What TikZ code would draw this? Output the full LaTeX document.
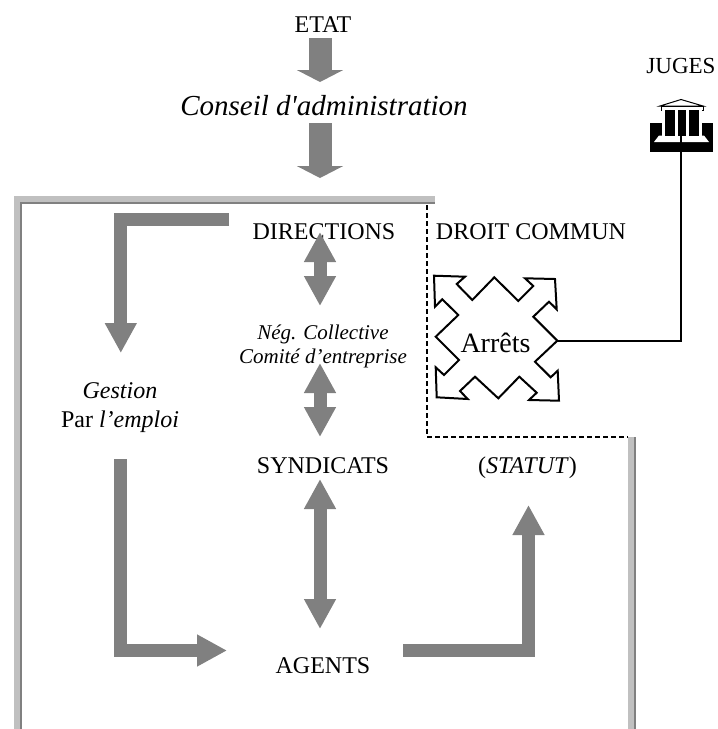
\documentclass[tikz,border=0pt]{standalone}
\usepackage{fontspec}
\setmainfont{Liberation Serif}[Ligatures=TeXOff]
\usetikzlibrary{arrows.meta}
\definecolor{fatgray}{HTML}{808080}
\definecolor{wallgray}{HTML}{C0C0C0}
\tikzset{
  lab/.style={anchor=base, inner sep=0pt, font=\fontsize{24}{24}\selectfont},
  fatarrow/.style={draw=fatgray, line width=13pt, -{Triangle[width=30pt,length=30pt]}},
  fatboth/.style={draw=fatgray, line width=13pt, {Triangle[width=30pt,length=30pt]}-{Triangle[width=30pt,length=30pt]}},
  toparrow/.style={draw=fatgray, line width=23pt, -{Triangle[width=46pt,length=12pt]}},
  wall/.style={fill=wallgray},
  wallin/.style={fill=fatgray},
}
\begin{document}
\begin{tikzpicture}[x=1pt,y=-1pt]
\useasboundingbox (0,0) rectangle (718,729);
% walls
\fill[wall] (14,196) rectangle (435,202);
\fill[wallin] (20,202) rectangle (435,204);
\fill[wall] (14,196) rectangle (20,729);
\fill[wallin] (20,202) rectangle (22,729);
\fill[wall] (628,437) rectangle (634,729);
\fill[wallin] (634,437) rectangle (636,729);
\coordinate (dashtop) at (426.5,205);
\coordinate (dashcorner) at (426.5,436.5);
\coordinate (dashend) at (628,436.5);
\draw[dashed, line width=2pt, dash pattern=on 5pt off 3pt] (dashtop) -- (dashcorner) -- (dashend);
% labels
\node[lab] (etat) at (323,32) {ETAT};
\node[lab, font=\fontsize{29}{29}\selectfont\itshape] (conseil) at (324,115) {Conseil d'administration};
\node[lab] (directions) at (324,239) {DIRECTIONS};
\node[lab] (droit) at (531,239) {DROIT COMMUN};
\node[lab, font=\fontsize{21}{24}\selectfont\itshape, anchor=center, align=center] (neg) at (323,346) {Nég. Collective\\Comité d’entreprise};
\node[lab, anchor=center, align=center, font=\fontsize{24}{29}\selectfont] (gestion) at (120,408) {\textit{Gestion}\\Par \textit{l’emploi}};
\node[lab] (syndicats) at (323,473) {SYNDICATS};
\node[lab] (statut) at (527.5,473) {(\textit{STATUT})};
\node[lab] (agents) at (323,673) {AGENTS};
\node[lab, font=\fontsize{23}{23}\selectfont] (juges) at (681,73) {JUGES};
% top arrows
\coordinate (etatfrom) at (320,38);
\coordinate (etatto) at (320,82);
\coordinate (caFrom) at (320,123);
\coordinate (caTo) at (320,178);
\draw[toparrow] (etatfrom) -- (etatto);
\draw[toparrow] (caFrom) -- (caTo);
% elbows
\coordinate (gesA) at (229,219.5);
\coordinate (gesB) at (120.8,353);
\draw[fatarrow] (gesA) -| (gesB);
\coordinate (empA) at (120,459);
\coordinate (empB) at (227,650.5);
\draw[fatarrow] (empA) |- (empB);
\coordinate (staA) at (403,650.5);
\coordinate (staB) at (528.5,505);
\draw[fatarrow] (staA) -| (staB);
% double arrows
\coordinate (dirA) at (320,232);
\coordinate (dirB) at (320,306);
\coordinate (negA) at (320,363);
\coordinate (negB) at (320,437);
\coordinate (synA) at (320,479);
\coordinate (synB) at (320,629);
\draw[fatboth] (dirA) -- (dirB);
\draw[fatboth] (negA) -- (negB);
\draw[fatboth] (synA) -- (synB);
% four way shape
\draw[line width=2pt, fill=white, line join=miter]
  (434,275.7) -- (465,276.7) -- (456.7,284) -- (472.3,300) -- (494.3,277.3) -- (518.3,301)
  -- (533.3,286) -- (525,278.3) -- (555,279) -- (556.7,309.3) -- (549,301.7) -- (533.3,316.7)
  -- (557.3,340.7) -- (535,361.7) -- (550.7,377.3) -- (557.7,370.7) -- (559,400.7) -- (529,400)
  -- (536.7,392.7) -- (519.3,376.7) -- (498.3,398.3) -- (475,376.7) -- (460,391) -- (467.7,399)
  -- (436.7,397.3) -- (435.7,367.3) -- (444,375) -- (459,360) -- (435.7,336.7) -- (458.3,315)
  -- (442.3,299.3) -- (435,306.7) -- cycle;
\node[lab, font=\fontsize{28}{28}\selectfont] (arrets) at (495.5,352.7) {Arrêts};
\coordinate (arretstip) at (557.3,340.7);
% temple
\fill (650,123) rectangle (713,152);
\fill[white] (659,135.5) -- (704,135.5) -- (709,142) -- (654,142) -- cycle;
\fill (662,110) rectangle (702,135.5);
\draw[line width=1pt, fill=white] (660,106) -- (681,99.5) -- (703,106) -- cycle;
\draw[line width=1pt, fill=white] (661,106) rectangle (703,110);
\fill[white] (662,110) rectangle (665,135.5);
\fill[white] (675,110) rectangle (678,135.5);
\fill[white] (686,110) rectangle (689,135.5);
\fill[white] (699,110) rectangle (702,135.5);
\coordinate (temple) at (680.5,136);
\draw[line width=2pt] (arretstip) -| (temple);
\end{tikzpicture}
\end{document}
